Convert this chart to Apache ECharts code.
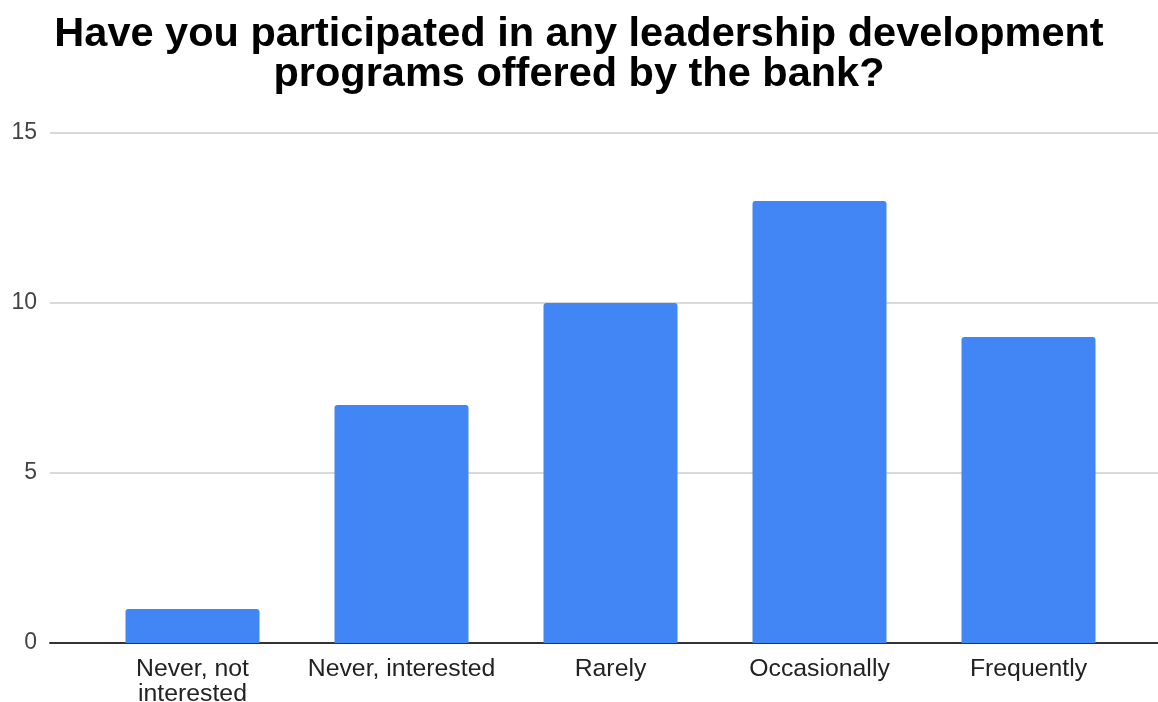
<!DOCTYPE html>
<html>
<head>
<meta charset="utf-8">
<style>
  html, body { margin: 0; padding: 0; background: #fff; }
  #chart { width: 1158px; height: 702px; }
</style>
<script src="https://cdn.jsdelivr.net/npm/echarts@6/dist/echarts.min.js"></script>
</head>
<body>
<div id="chart"></div>
<script>
// Survey answers and response counts
const categories = ['Never, not\ninterested', 'Never, interested', 'Rarely', 'Occasionally', 'Frequently'];
const counts = [1, 7, 10, 13, 9];
const yTicks = { min: 0, max: 15, interval: 5 };

const chart = echarts.init(document.getElementById('chart'));
const font = '"Liberation Sans", Arial, sans-serif';

chart.setOption({
  animation: false,
  title: {
    text: 'Have you participated in any leadership development\nprograms offered by the bank?',
    left: 'center',
    top: 10,
    textStyle: { fontFamily: font, fontWeight: 'bold', fontSize: 41.5, lineHeight: 40, color: '#000' }
  },
  grid: [
    // background grid: gridlines and baseline span the full width
    { left: 50, right: 0, top: 133, bottom: 59, outerBoundsMode: 'none', containLabel: false },
    // bar grid
    { left: 88, right: 25, top: 133, bottom: 59, outerBoundsMode: 'none', containLabel: false }
  ],
  xAxis: [
    {
      gridIndex: 0, type: 'category', data: [''],
      axisLine: { lineStyle: { color: '#333', width: 2 } },
      axisTick: { show: false }, axisLabel: { show: false }
    },
    {
      gridIndex: 1, type: 'category', data: categories,
      axisLine: { show: false }, axisTick: { show: false },
      axisLabel: { fontFamily: font, fontSize: 24.8, color: '#222', lineHeight: 25.5, margin: 13, interval: 0 }
    }
  ],
  yAxis: [
    {
      gridIndex: 0, type: 'value', min: yTicks.min, max: yTicks.max, interval: yTicks.interval,
      axisLine: { show: false }, axisTick: { show: false },
      axisLabel: { fontFamily: font, fontSize: 23, color: '#444', margin: 13 },
      splitLine: { lineStyle: { color: '#cccccc', width: 1.5 } }
    },
    {
      gridIndex: 1, type: 'value', min: yTicks.min, max: yTicks.max, interval: yTicks.interval,
      show: false
    }
  ],
  series: [{
    type: 'bar',
    xAxisIndex: 1, yAxisIndex: 1,
    data: counts,
    barWidth: 134,
    itemStyle: { color: '#4285F4', borderRadius: [3, 3, 0, 0] },
    z: 1
  }]
});
</script>
</body>
</html>
